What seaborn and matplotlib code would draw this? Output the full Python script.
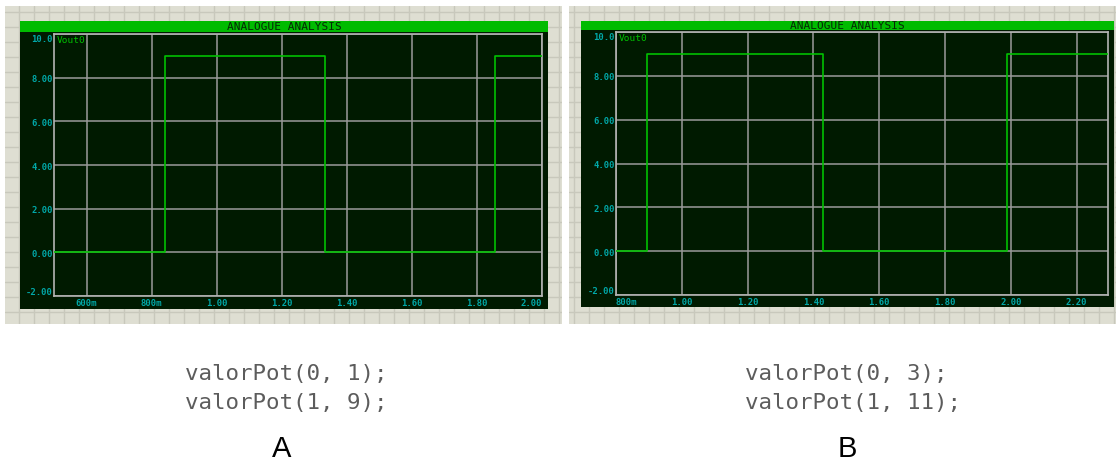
import matplotlib
matplotlib.use("Agg")
import matplotlib.pyplot as plt
from matplotlib.ticker import MultipleLocator
import seaborn as sns

W, H = 1116, 464

# Vout0 square wave: transition times (s) and levels (V)
time_a = [0.5, 0.84, 1.332, 1.854, 2.0]
vout_a = [0, 9, 0, 9, 9]
time_b = [0.8, 0.894, 1.430, 1.988, 2.295]
vout_b = [0, 9, 0, 9, 9]

xticks_a = [0.6, 0.8, 1.0, 1.2, 1.4, 1.6, 1.8, 2.0]
xlabels_a = ["600m", "800m", "1.00", "1.20", "1.40", "1.60", "1.80", "2.00"]
xticks_b = [0.8, 1.0, 1.2, 1.4, 1.6, 1.8, 2.0, 2.2]
xlabels_b = ["800m", "1.00", "1.20", "1.40", "1.60", "1.80", "2.00", "2.20"]
yticks = [-2, 0, 2, 4, 6, 8, 10]
ylabels = ["-2.00", "0.00", "2.00", "4.00", "6.00", "8.00", "10.0"]

code_a = ["valorPot(0, 1);", "valorPot(1, 9);"]
code_b = ["valorPot(0, 3);", "valorPot(1, 11);"]

BEIGE = "#deded2"
BEIGE_GRID = "#c8c8bc"
BAR_GREEN = "#00bb00"
DARK = "#001a00"
TRACE = "#00c000"
GRID = "#9a9a9a"
CYAN = "#00a8a8"
MONO = "DejaVu Sans Mono"

sns.set_theme(style="dark")
plt.rcParams["font.family"] = ["DejaVu Sans"]

fig = plt.figure(figsize=(W / 100, H / 100), dpi=100)
fig.patch.set_facecolor("white")


def box(x0, y0, x1, y1):
    return [x0 / W, 1 - y1 / H, (x1 - x0) / W, (y1 - y0) / H]


def blank(ax, color):
    ax.set_facecolor(color)
    ax.set_xticks([])
    ax.set_yticks([])
    for s in ax.spines.values():
        s.set_visible(False)


def panel(beige, bar, dark, plot, t, v, xlim, xticks, xlabels, first_left):
    # schematic-sheet background with its grid
    bg = fig.add_axes(box(*beige))
    blank(bg, BEIGE)
    x0, y0, x1, y1 = beige
    bg.set_xlim(x0, x1)
    bg.set_ylim(y1, y0)
    bg.set_xticks([x for x in range(x0, x1) if x % 15 == 4])
    bg.set_yticks([y for y in range(y0, y1) if y % 15 == 13])
    bg.tick_params(length=0, labelbottom=False, labelleft=False)
    bg.grid(True, color=BEIGE_GRID, linewidth=1.0)

    # graph frame
    fr = fig.add_axes(box(*dark))
    blank(fr, DARK)

    hd = fig.add_axes(box(*bar))
    blank(hd, BAR_GREEN)
    hd.text(0.5, 0.58, "ANALOGUE ANALYSIS", transform=hd.transAxes,
            ha="center", va="center", fontsize=8.0, family=MONO,
            color="#062806")

    ax = fig.add_axes(box(*plot))
    ax.set_facecolor(DARK)
    sns.lineplot(x=t, y=v, ax=ax, drawstyle="steps-post", color=TRACE,
                 linewidth=1.2, zorder=5, estimator=None, sort=False)
    ax.set_xlim(*xlim)
    ax.set_ylim(-2, 10)
    ax.set_xticks(xticks, xlabels)
    ax.set_yticks(yticks, ylabels)
    ax.xaxis.set_minor_locator(MultipleLocator(0.02))
    ax.yaxis.set_minor_locator(MultipleLocator(0.2))
    ax.grid(True, which="major", color=GRID, linewidth=1.1)
    ax.grid(False, which="minor")
    ax.set_xlabel("")
    ax.set_ylabel("")
    for s in ax.spines.values():
        s.set_visible(True)
        s.set_color("#b4b4b4")
        s.set_linewidth(1.2)
    ax.tick_params(which="both", direction="in", color="#b4b4b4",
                   length=2.5, width=0.8, top=False, right=False)
    ax.tick_params(axis="y", which="major", pad=1.0, labelsize=6.4,
                   labelcolor=CYAN)
    ax.tick_params(axis="x", which="major", pad=1.6, labelsize=6.4,
                   labelcolor=CYAN)
    for lab in ax.get_xticklabels() + ax.get_yticklabels():
        lab.set_family(MONO)
        lab.set_fontweight("bold")
    ylabs = ax.get_yticklabels()
    ylabs[0].set_va("bottom")
    ylabs[-1].set_va("top")
    xlabs = ax.get_xticklabels()
    if first_left:
        xlabs[0].set_ha("left")
    if xticks[-1] >= xlim[1] - 1e-6:
        xlabs[-1].set_ha("right")
    ax.text(0.006, 0.998, "Vout0", transform=ax.transAxes, ha="left",
            va="top", fontsize=6.8, family=MONO, color=TRACE)
    return ax


panel((5, 7, 562, 325), (20, 22, 548, 33), (20, 33, 548, 310),
      (54, 35, 542, 297), time_a, vout_a, (0.5, 2.0),
      xticks_a, xlabels_a, False)
panel((569, 7, 1116, 325), (581, 22, 1114, 31), (581, 31, 1114, 308),
      (616, 33, 1108, 296), time_b, vout_b, (0.8, 2.295),
      xticks_b, xlabels_b, True)

# code snippets and panel letters
for x, lines, letter, lx in ((185, code_a, "A", 282), (745, code_b, "B", 847)):
    for i, line in enumerate(lines):
        fig.text(x / W, 1 - (380 + 29 * i) / H, line, ha="left",
                 va="baseline", fontsize=16.2, family=MONO, color="#5c5c5c")
    fig.text(lx / W, 1 - 457 / H, letter, ha="center", va="baseline",
             fontsize=21, family="Liberation Sans", color="black")

fig.savefig("out.png", dpi=100, facecolor="white")
